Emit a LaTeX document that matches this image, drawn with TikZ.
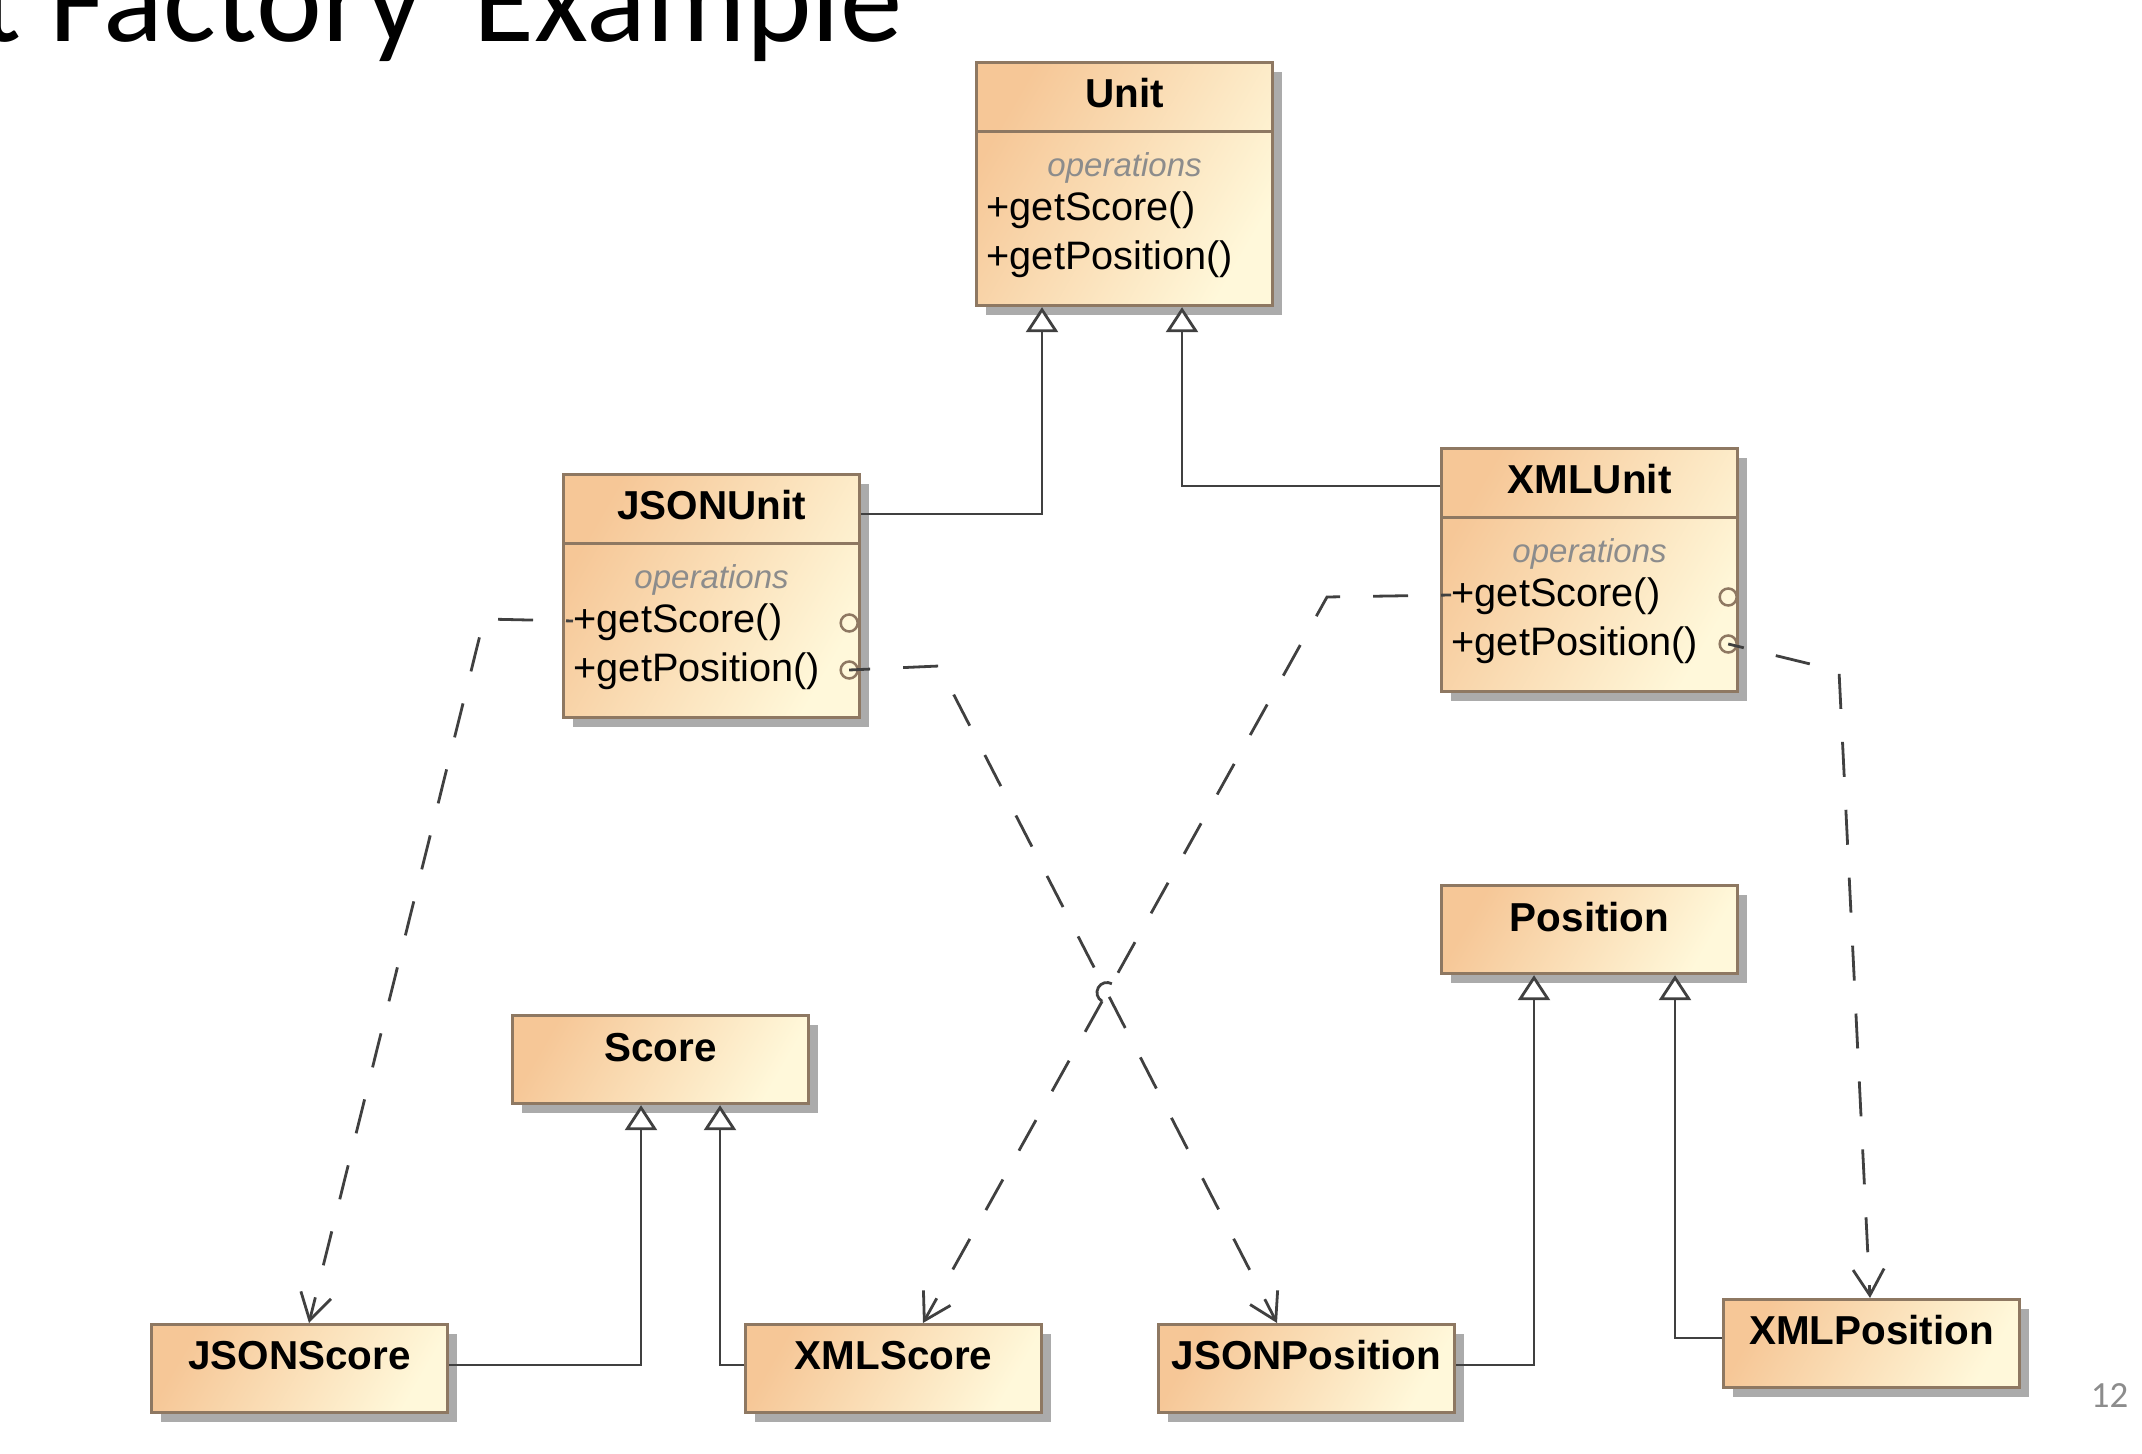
\documentclass[tikz,border=0pt]{standalone}
\usepackage{fontspec}
\setmainfont{Liberation Sans}
\newfontfamily\slidefont{Carlito}
\usetikzlibrary{arrows.meta,calc,shadows}
\definecolor{clsA}{HTML}{F6C797}
\definecolor{clsB}{HTML}{FFF8DA}
\definecolor{clsedge}{HTML}{8E7862}
\definecolor{clsshadow}{HTML}{ABABAB}
\definecolor{lnk}{HTML}{404040}
\definecolor{opsgray}{HTML}{8C8C8C}

\begin{document}
\begin{tikzpicture}[
  x=0.1mm, y=-0.1mm,
  cls/.style={rectangle, draw=clsedge, line width=0.32mm, top color=clsA, bottom color=clsB, shading angle=60, minimum width=29.6mm, inner sep=0pt, anchor=north west, general shadow={fill=clsshadow, shadow xshift=0.9mm, shadow yshift=-0.9mm}},
  opcls/.style={cls, minimum height=24.3mm},
  smallcls/.style={cls, minimum height=8.8mm},
  clsname/.style={font=\bfseries\fontsize{11.5}{13}\selectfont, inner sep=0pt, anchor=base},
  opshead/.style={font=\itshape\fontsize{9.4}{11}\selectfont, text=opsgray, inner sep=0pt, anchor=base},
  op/.style={font=\fontsize{11.3}{13}\selectfont, inner sep=0pt, anchor=base west},
  divider/.style={draw=clsedge, line width=0.3mm},
  port/.style={circle, draw=clsedge, line width=0.25mm, minimum size=1.7mm, inner sep=0pt},
  gen/.style={draw=lnk, line width=0.28mm, -{Triangle[open, fill=white, length=2.5mm, width=3.2mm]}},
  dep/.style={draw=lnk, line width=0.28mm, dash pattern=on 3.5mm off 3.3mm},
  deptip/.style={dep, -{Straight Barb[length=2.6mm, width=3.1mm]}}
]
\useasboundingbox (0,0) rectangle (2142,1454);

% Slide title and page number
\node[font=\slidefont\fontsize{35.5}{40}\selectfont, anchor=base east, inner sep=0pt] (title) at (903,42) {t Factory\hspace{0.41em}Example};
\node[font=\slidefont\fontsize{10.5}{12}\selectfont, text=opsgray, anchor=base east, inner sep=0pt] (pagenum) at (2129,1407) {12};

% Unit
\node[opcls] (unit) at (975,61) {};
\node[clsname] (unitname) at ($(unit.north)+(0,47)$) {Unit};
\draw[divider] ($(unit.north west)+(0,71)$) -- ($(unit.north east)+(0,71)$);
\node[opshead] (unitops) at ($(unit.north)+(0,116)$) {operations};
\node[op] (unitscore) at ($(unit.north west)+(11,160)$) {+getScore()};
\node[op] (unitpos) at ($(unit.north west)+(11,209)$) {+getPosition()};

% JSONUnit
\node[opcls] (jsonunit) at (562,473) {};
\node[clsname] (jsonunitname) at ($(jsonunit.north)+(0,47)$) {JSONUnit};
\draw[divider] ($(jsonunit.north west)+(0,71)$) -- ($(jsonunit.north east)+(0,71)$);
\node[opshead] (jsonunitops) at ($(jsonunit.north)+(0,116)$) {operations};
\node[op] (jsonunitscore) at ($(jsonunit.north west)+(11,160)$) {+getScore()};
\node[op] (jsonunitpos) at ($(jsonunit.north west)+(11,209)$) {+getPosition()};
\node[port] (jsPort) at ($(jsonunit.north east)+(-12,150)$) {};
\node[port] (jpPort) at ($(jsonunit.north east)+(-12,197)$) {};

% XMLUnit
\node[opcls] (xmlunit) at (1440,447) {};
\node[clsname] (xmlunitname) at ($(xmlunit.north)+(0,47)$) {XMLUnit};
\draw[divider] ($(xmlunit.north west)+(0,71)$) -- ($(xmlunit.north east)+(0,71)$);
\node[opshead] (xmlunitops) at ($(xmlunit.north)+(0,116)$) {operations};
\node[op] (xmlunitscore) at ($(xmlunit.north west)+(11,160)$) {+getScore()};
\node[op] (xmlunitpos) at ($(xmlunit.north west)+(11,209)$) {+getPosition()};
\node[port] (xsPort) at ($(xmlunit.north east)+(-11,150)$) {};
\node[port] (xpPort) at ($(xmlunit.north east)+(-11,197)$) {};

% Products
\node[smallcls] (score) at (511,1014) {};
\node[clsname] (scorename) at ($(score.north)+(0,47)$) {Score};
\node[smallcls] (position) at (1440,884) {};
\node[clsname] (positionname) at ($(position.north)+(0,47)$) {Position};
\node[smallcls] (jsonscore) at (150,1323) {};
\node[clsname] (jsonscorename) at ($(jsonscore.north)+(0,46)$) {JSONScore};
\node[smallcls] (xmlscore) at (744,1323) {};
\node[clsname] (xmlscorename) at ($(xmlscore.north)+(0,46)$) {XMLScore};
\node[smallcls] (jsonpos) at (1157,1323) {};
\node[clsname] (jsonposname) at ($(jsonpos.north)+(0,46)$) {JSONPosition};
\node[smallcls] (xmlpos) at (1722,1298) {};
\node[clsname] (xmlposname) at ($(xmlpos.north)+(0,46)$) {XMLPosition};

% Generalizations
\draw[gen] ($(jsonunit.north east)+(0,41)$) -| ($(unit.south west)+(67,0)$);
\draw[gen] ($(xmlunit.north west)+(0,39)$) -| ($(unit.south west)+(207,0)$);
\draw[gen] ($(jsonscore.north east)+(0,42)$) -| ($(score.south west)+(130,0)$);
\draw[gen] ($(xmlscore.north west)+(0,42)$) -| ($(score.south west)+(209,0)$);
\draw[gen] ($(jsonpos.north east)+(0,42)$) -| ($(position.south west)+(94,0)$);
\draw[gen] ($(xmlpos.north west)+(0,40)$) -| ($(position.south west)+(235,0)$);

% Dependencies
\coordinate (jsOut) at ($(jsonunit.north west)+(11,148)$);
\coordinate (jsBend) at (484,619);
\coordinate (jsEnd) at ($(jsonscore.north west)+(159,0)$);
\coordinate (jpBend) at (939,666);
\coordinate (jpEnd) at ($(jsonpos.north west)+(120,0)$);
\coordinate (xsOut) at ($(xmlunit.north west)+(11,148)$);
\coordinate (xsBend) at (1327,597);
\coordinate (xsEnd) at ($(xmlscore.north west)+(179,0)$);
\coordinate (xpBend) at (1839,671);
\coordinate (xpEnd) at ($(xmlpos.north west)+(148,0)$);
\coordinate (cross) at (intersection of jpBend--jpEnd and xsBend--xsEnd);
\coordinate (hopA) at ($(cross)!1mm!(xsBend)$);
\coordinate (hopB) at ($(cross)!1mm!(xsEnd)$);

\draw[deptip, dash phase=2.8mm] (jsOut) -- (jsBend) -- (jsEnd);
\draw[deptip, dash phase=1.4mm] (jpPort.center) -- (jpBend) -- (jpEnd);
\draw[dep, dash phase=2.5mm] (xsOut) -- (xsBend) -- (hopA);
\draw[draw=lnk, line width=0.28mm] (hopA) arc[start angle=-60.7, end angle=-240.7, radius=10];
\draw[deptip] (hopB) -- (xsEnd);
\draw[deptip, dash phase=1.9mm] (xpPort.center) -- (xpBend) -- (xpEnd);
\end{tikzpicture}
\end{document}
